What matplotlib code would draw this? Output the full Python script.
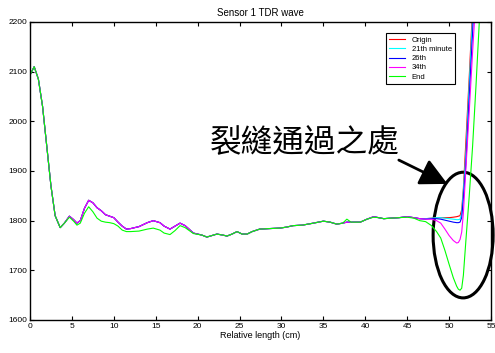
import numpy as np
import matplotlib.pyplot as plt
from matplotlib.patches import Ellipse

x_head = [0, 0.5, 1.0, 1.5, 2.0, 2.5, 3.0, 3.6, 4.1, 4.7, 5.2, 5.6, 6.0, 6.5, 7.0, 7.5,
          8.0, 8.5, 9.0, 9.5, 10.0, 10.5, 11.0, 11.5, 12.0, 13.0, 14.0, 14.7, 15.5, 16.0,
          16.7, 17.3, 17.9, 18.5, 19.5, 20.5, 21.1, 21.7, 22.3, 23.0, 23.5, 24.1, 24.7,
          25.3, 25.9, 26.5, 27.4, 28.5, 29.8, 30.6, 31.4, 32.5, 33.8, 35.0, 35.8, 36.6,
          37.3, 37.8, 38.3, 39.4, 40.2, 41.0, 41.6, 42.2, 43.0, 44.0, 45.0, 45.8, 46.5]
head_common = [2093, 2110, 2085, 2030, 1950, 1870, 1810, 1786, 1795, 1809, 1802, 1795, 1800,
               1825, 1841, 1836, 1826, 1820, 1812, 1809, 1806, 1797, 1789, 1783, 1784, 1788,
               1796, 1800, 1796, 1789, 1783, 1789, 1795, 1790, 1775, 1771, 1767, 1770, 1773,
               1771, 1769, 1773, 1778, 1773, 1773, 1778, 1783, 1784, 1785, 1787, 1790, 1791,
               1795, 1799, 1797, 1793, 1795, 1797, 1797, 1797, 1803, 1808, 1806, 1804, 1805,
               1806, 1808, 1806, 1804]
head_end = [2093, 2110, 2085, 2030, 1950, 1870, 1810, 1786, 1795, 1807, 1799, 1791, 1795,
            1815, 1828, 1818, 1805, 1799, 1797, 1796, 1794, 1789, 1781, 1778, 1778, 1779,
            1783, 1785, 1781, 1775, 1772, 1780, 1790, 1786, 1774, 1771, 1767, 1770, 1773,
            1771, 1769, 1773, 1778, 1773, 1773, 1778, 1783, 1784, 1785, 1787, 1790, 1791,
            1795, 1799, 1797, 1793, 1795, 1803, 1797, 1797, 1803, 1807, 1806, 1804, 1805,
            1806, 1807, 1805, 1800]

x_tail = [47.2, 47.9, 48.5, 49.0, 49.5, 50.0, 50.5, 50.9, 51.1, 51.3, 51.5, 51.7, 52.0,
          52.4, 52.8, 53.2, 53.6, 54.0]
tail_origin = [1804, 1805, 1806, 1806, 1806, 1806, 1807, 1808, 1809, 1810, 1822, 1865, 1960,
               2090, 2230, 2360, 2480, 2600]
tail_21 = [1804, 1805, 1806, 1806, 1805, 1804, 1803, 1802, 1802, 1803, 1815, 1860, 1935,
           2075, 2210, 2350, 2480, 2600]
tail_26 = [1803, 1804, 1804, 1803, 1801, 1799, 1797, 1796, 1796, 1797, 1806, 1845, 1915,
           2050, 2180, 2310, 2440, 2560]
tail_34 = [1803, 1803, 1800, 1795, 1783, 1770, 1760, 1755, 1756, 1762, 1777, 1815, 1905,
           2020, 2140, 2250, 2370, 2480]
tail_end = [1798, 1790, 1778, 1765, 1740, 1712, 1685, 1668, 1662, 1660, 1664, 1690, 1760,
            1850, 1950, 2070, 2200, 2330]

labels = ['Origin', '21th minute', '26th', '34th', 'End']
colors = ['#ff0000', '#00ffff', '#0000ff', '#ff00ff', '#00ff00']

plt.rcParams['font.family'] = ['Liberation Sans', 'DejaVu Sans']

fig = plt.figure(figsize=(4.95, 3.53), dpi=100)
ax = fig.add_axes([0.0606, 0.0935, 0.9314, 0.8442])

x_all = np.array(x_head + x_tail)
series = [head_common + tail_origin, head_common + tail_21, head_common + tail_26,
          head_common + tail_34, head_end + tail_end]
for lab, col, ys in zip(labels, colors, series):
    ax.plot(x_all, ys, color=col, lw=0.8, label=lab)

ax.set_xlim(0, 55)
ax.set_ylim(1600, 2200)
ax.set_xticks(np.arange(0, 56, 5))
ax.set_yticks(np.arange(1600, 2201, 100))
ax.tick_params(direction='in', top=True, right=True, length=3, width=0.8,
               labelsize=6, pad=2)
for s in ax.spines.values():
    s.set_linewidth(1.0)

ax.set_title('Sensor 1 TDR wave', fontsize=7, pad=4)
ax.set_xlabel('Relative length (cm)', fontsize=6.5, labelpad=1)

leg = ax.legend(loc='upper left', bbox_to_anchor=(0.763, 0.975), fontsize=5.5,
                frameon=True, fancybox=False, edgecolor='black', framealpha=1,
                handlelength=2.2, borderpad=0.4, labelspacing=0.25, handletextpad=0.8)
leg.get_frame().set_linewidth(0.8)

# annotation: crack passing location
ax.text(21.5, 1956, '裂縫通過之處', fontsize=22.8, va='center', ha='left',
        family=['Noto Sans CJK TC', 'DejaVu Sans'], fontweight='medium')
ax.annotate('', xy=(49.8, 1874), xytext=(44.0, 1922),
            arrowprops=dict(arrowstyle='-|>,head_length=0.75,head_width=0.38',
                            color='black', lw=2, mutation_scale=22, shrinkA=0, shrinkB=0))
ax.add_patch(Ellipse((51.67, 1771), 7.16, 253, fill=False, edgecolor='black',
                     lw=2.2, clip_on=False))

fig.savefig('out.png', dpi=100)
